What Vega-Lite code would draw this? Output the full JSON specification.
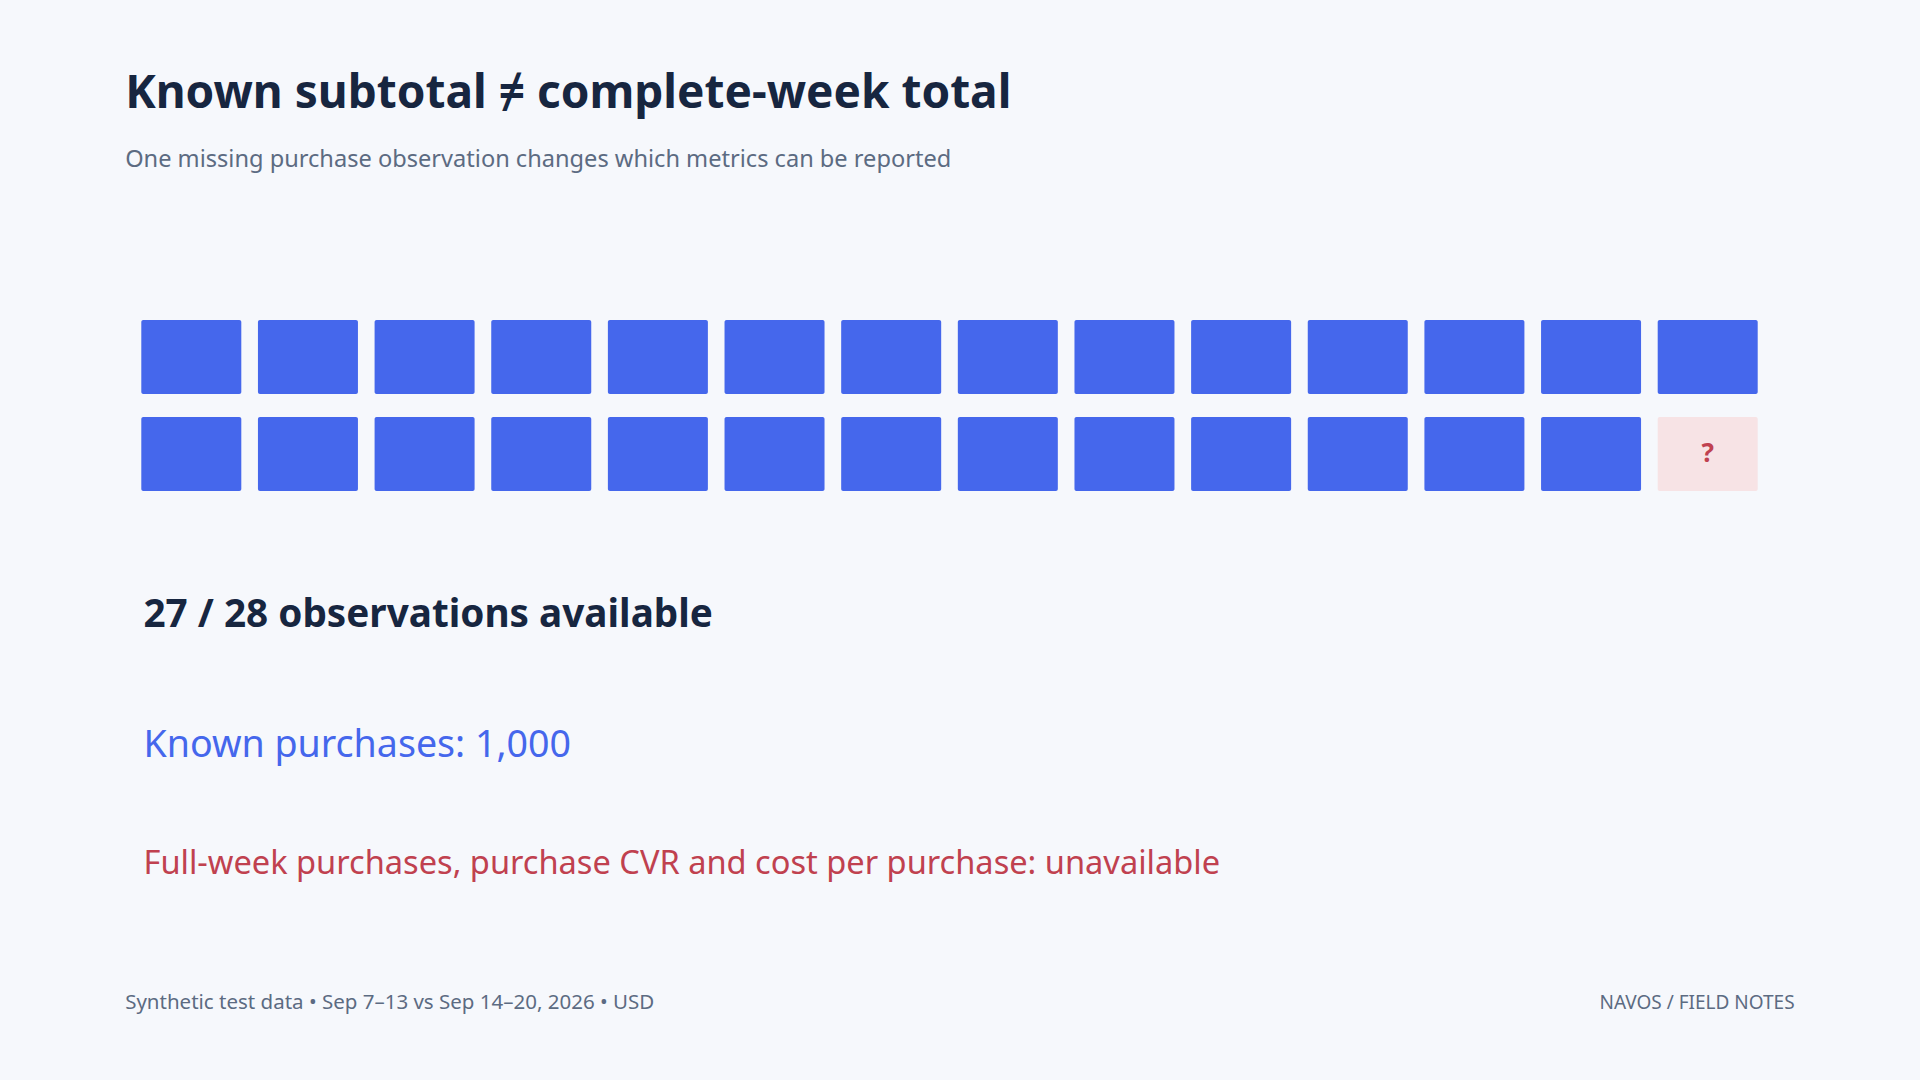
{
  "$schema": "https://vega.github.io/schema/vega-lite/v6.json",
  "description": "Observation grid: 27 of 28 purchase observations present",
  "width": 1920,
  "height": 1080,
  "autosize": {"type": "fit", "contains": "padding"},
  "padding": 0,
  "background": "#f6f8fc",
  "view": {"stroke": null},
  "config": {"font": "Noto Sans"},
  "datasets": {
    "cells": [
      {"obs": 1, "col": 0, "row": 0, "status": "available"},
      {"obs": 2, "col": 1, "row": 0, "status": "available"},
      {"obs": 3, "col": 2, "row": 0, "status": "available"},
      {"obs": 4, "col": 3, "row": 0, "status": "available"},
      {"obs": 5, "col": 4, "row": 0, "status": "available"},
      {"obs": 6, "col": 5, "row": 0, "status": "available"},
      {"obs": 7, "col": 6, "row": 0, "status": "available"},
      {"obs": 8, "col": 7, "row": 0, "status": "available"},
      {"obs": 9, "col": 8, "row": 0, "status": "available"},
      {"obs": 10, "col": 9, "row": 0, "status": "available"},
      {"obs": 11, "col": 10, "row": 0, "status": "available"},
      {"obs": 12, "col": 11, "row": 0, "status": "available"},
      {"obs": 13, "col": 12, "row": 0, "status": "available"},
      {"obs": 14, "col": 13, "row": 0, "status": "available"},
      {"obs": 15, "col": 0, "row": 1, "status": "available"},
      {"obs": 16, "col": 1, "row": 1, "status": "available"},
      {"obs": 17, "col": 2, "row": 1, "status": "available"},
      {"obs": 18, "col": 3, "row": 1, "status": "available"},
      {"obs": 19, "col": 4, "row": 1, "status": "available"},
      {"obs": 20, "col": 5, "row": 1, "status": "available"},
      {"obs": 21, "col": 6, "row": 1, "status": "available"},
      {"obs": 22, "col": 7, "row": 1, "status": "available"},
      {"obs": 23, "col": 8, "row": 1, "status": "available"},
      {"obs": 24, "col": 9, "row": 1, "status": "available"},
      {"obs": 25, "col": 10, "row": 1, "status": "available"},
      {"obs": 26, "col": 11, "row": 1, "status": "available"},
      {"obs": 27, "col": 12, "row": 1, "status": "available"},
      {"obs": 28, "col": 13, "row": 1, "status": "missing"}
    ],
    "notes": [
      {"role": "title", "text": "Known subtotal ≠ complete-week total"},
      {"role": "subtitle", "text": "One missing purchase observation changes which metrics can be reported"},
      {"role": "summary", "text": "27 / 28 observations available"},
      {"role": "known", "text": "Known purchases: 1,000"},
      {"role": "unavailable", "text": "Full-week purchases, purchase CVR and cost per purchase: unavailable"},
      {"role": "source", "text": "Synthetic test data • Sep 7–13 vs Sep 14–20, 2026 • USD"},
      {"role": "brand", "text": "NAVOS / FIELD NOTES"}
    ]
  },
  "layer": [
    {
      "data": {"name": "cells"},
      "mark": {"type": "rect", "width": 100, "height": 74, "cornerRadius": 2},
      "encoding": {
        "x": {"field": "col", "type": "quantitative", "axis": null,
          "scale": {"domain": [-1.64, 14.82], "nice": false, "zero": false}},
        "y": {"field": "row", "type": "quantitative", "axis": null,
          "scale": {"domain": [-3.68, 7.455], "nice": false, "zero": false, "reverse": true}},
        "color": {
          "field": "status",
          "type": "nominal",
          "scale": {"domain": ["available", "missing"], "range": ["#4567ec", "#f7e3e5"]},
          "legend": null
        },
        "tooltip": [{"field": "obs", "title": "Observation"}, {"field": "status", "title": "Status"}]
      }
    },
    {
      "data": {"name": "cells"},
      "transform": [{"filter": "datum.status == 'missing'"}],
      "mark": {"type": "text", "text": "?", "fontSize": 26, "fontWeight": "bold", "color": "#c0414f", "align": "center", "baseline": "middle"},
      "encoding": {
        "x": {"field": "col", "type": "quantitative", "axis": null,
          "scale": {"domain": [-1.64, 14.82], "nice": false, "zero": false}},
        "y": {"field": "row", "type": "quantitative", "axis": null,
          "scale": {"domain": [-3.68, 7.455], "nice": false, "zero": false, "reverse": true}}
      }
    },
    {
      "data": {"name": "notes"},
      "transform": [{"filter": "datum.role == 'title'"}],
      "mark": {"type": "text", "fontSize": 46, "fontWeight": "bold", "color": "#172640", "align": "left", "baseline": "alphabetic"},
      "encoding": {
        "x": {"datum": -0.567, "type": "quantitative", "axis": null,
          "scale": {"domain": [-1.64, 14.82], "nice": false, "zero": false}},
        "y": {"datum": -2.565, "type": "quantitative", "axis": null,
          "scale": {"domain": [-3.68, 7.455], "nice": false, "zero": false, "reverse": true}},
        "text": {"field": "text"}
      }
    },
    {
      "data": {"name": "notes"},
      "transform": [{"filter": "datum.role == 'subtitle'"}],
      "mark": {"type": "text", "fontSize": 23.6, "color": "#5c6b82", "align": "left", "baseline": "alphabetic"},
      "encoding": {
        "x": {"datum": -0.567, "type": "quantitative", "axis": null,
          "scale": {"domain": [-1.64, 14.82], "nice": false, "zero": false}},
        "y": {"datum": -1.957, "type": "quantitative", "axis": null,
          "scale": {"domain": [-3.68, 7.455], "nice": false, "zero": false, "reverse": true}},
        "text": {"field": "text"}
      }
    },
    {
      "data": {"name": "notes"},
      "transform": [{"filter": "datum.role == 'summary'"}],
      "mark": {"type": "text", "fontSize": 38.7, "fontWeight": "bold", "color": "#172640", "align": "left", "baseline": "alphabetic"},
      "encoding": {
        "x": {"datum": -0.41, "type": "quantitative", "axis": null,
          "scale": {"domain": [-1.64, 14.82], "nice": false, "zero": false}},
        "y": {"datum": 2.782, "type": "quantitative", "axis": null,
          "scale": {"domain": [-3.68, 7.455], "nice": false, "zero": false, "reverse": true}},
        "text": {"field": "text"}
      }
    },
    {
      "data": {"name": "notes"},
      "transform": [{"filter": "datum.role == 'known'"}],
      "mark": {"type": "text", "fontSize": 37.6, "color": "#4567ec", "align": "left", "baseline": "alphabetic"},
      "encoding": {
        "x": {"datum": -0.41, "type": "quantitative", "axis": null,
          "scale": {"domain": [-1.64, 14.82], "nice": false, "zero": false}},
        "y": {"datum": 4.122, "type": "quantitative", "axis": null,
          "scale": {"domain": [-3.68, 7.455], "nice": false, "zero": false, "reverse": true}},
        "text": {"field": "text"}
      }
    },
    {
      "data": {"name": "notes"},
      "transform": [{"filter": "datum.role == 'unavailable'"}],
      "mark": {"type": "text", "fontSize": 32.6, "color": "#c0414f", "align": "left", "baseline": "alphabetic"},
      "encoding": {
        "x": {"datum": -0.41, "type": "quantitative", "axis": null,
          "scale": {"domain": [-1.64, 14.82], "nice": false, "zero": false}},
        "y": {"datum": 5.334, "type": "quantitative", "axis": null,
          "scale": {"domain": [-3.68, 7.455], "nice": false, "zero": false, "reverse": true}},
        "text": {"field": "text"}
      }
    },
    {
      "data": {"name": "notes"},
      "transform": [{"filter": "datum.role == 'source'"}],
      "mark": {"type": "text", "fontSize": 20.5, "color": "#5c6b82", "align": "left", "baseline": "alphabetic"},
      "encoding": {
        "x": {"datum": -0.567, "type": "quantitative", "axis": null,
          "scale": {"domain": [-1.64, 14.82], "nice": false, "zero": false}},
        "y": {"datum": 6.726, "type": "quantitative", "axis": null,
          "scale": {"domain": [-3.68, 7.455], "nice": false, "zero": false, "reverse": true}},
        "text": {"field": "text"}
      }
    },
    {
      "data": {"name": "notes"},
      "transform": [{"filter": "datum.role == 'brand'"}],
      "mark": {"type": "text", "fontSize": 19, "color": "#5c6b82", "align": "right", "baseline": "alphabetic"},
      "encoding": {
        "x": {"datum": 13.745, "type": "quantitative", "axis": null,
          "scale": {"domain": [-1.64, 14.82], "nice": false, "zero": false}},
        "y": {"datum": 6.726, "type": "quantitative", "axis": null,
          "scale": {"domain": [-3.68, 7.455], "nice": false, "zero": false, "reverse": true}},
        "text": {"field": "text"}
      }
    }
  ]
}
